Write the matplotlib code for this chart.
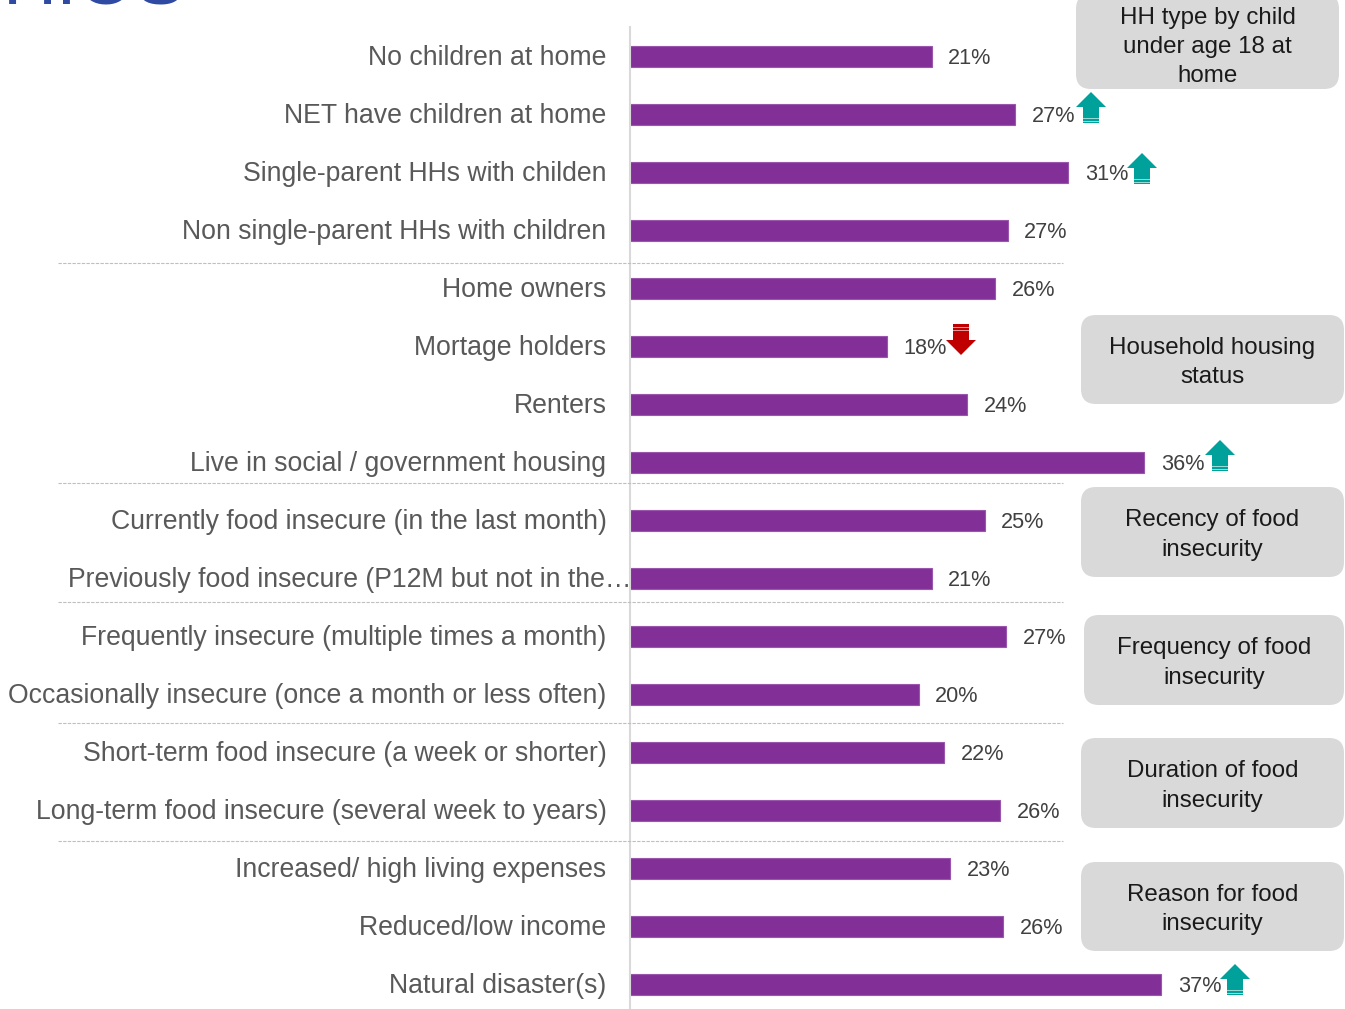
import matplotlib
matplotlib.use("Agg")
import matplotlib.pyplot as plt
from matplotlib.patches import FancyBboxPatch, Polygon, Rectangle
from matplotlib.transforms import ScaledTranslation

plt.rcParams["font.family"] = ["Liberation Sans", "DejaVu Sans"]

# Values
categories = [
    "No children at home",
    "NET have children at home",
    "Single-parent HHs with childen",
    "Non single-parent HHs with children",
    "Home owners",
    "Mortage holders",
    "Renters",
    "Live in social / government housing",
    "Currently food insecure (in the last month)",
    "Previously food insecure (P12M but not in the\u2026",
    "Frequently insecure (multiple times a month)",
    "Occasionally insecure (once a month or less often)",
    "Short-term food insecure (a week or shorter)",
    "Long-term food insecure (several week to years)",
    "Increased/ high living expenses",
    "Reduced/low income",
    "Natural disaster(s)",
]
values = [21.0, 26.8, 30.5, 26.3, 25.4, 17.9, 23.5, 35.8, 24.7, 21.0, 26.2, 20.1, 21.9, 25.8, 22.3, 26.0, 37.0]
value_labels = ["21%", "27%", "31%", "27%", "26%", "18%", "24%", "36%", "25%", "21%", "27%", "20%", "22%", "26%", "23%", "26%", "37%"]

group_names = [
    "HH type by child\nunder age 18 at\nhome",
    "Household housing\nstatus",
    "Recency of food\ninsecurity",
    "Frequency of food\ninsecurity",
    "Duration of food\ninsecurity",
    "Reason for food\ninsecurity",
]

W, H = 1345, 1009
PX_PER_UNIT = 14.36
ROW = 58
Y0 = 56.5

fig = plt.figure(figsize=(W / 100, H / 100), dpi=100)

# Overlay in pixel coordinates for the slide furniture
over = fig.add_axes([0, 0, 1, 1], zorder=3)
over.set_xlim(0, W)
over.set_ylim(H, 0)
over.axis("off")
over.patch.set_alpha(0)

# Bars
ax = fig.add_axes([630 / W, 0, (W - 630) / W, 1], zorder=2)
ax.patch.set_alpha(0)
ax.set_xlim(0, (W - 630) / PX_PER_UNIT)
ax.set_ylim((H - Y0) / ROW, -Y0 / ROW)
positions = list(range(len(categories)))
bars = ax.barh(positions, values, height=0.36, color="#823098", edgecolor="#9A55AD", linewidth=0.8)
for t in ax.bar_label(bars, labels=value_labels, padding=11, fontsize=15.6, color="#404040"):
    t.xyann = (12, -1.6)
ax.set_yticks(positions)
ax.set_yticklabels(categories, fontsize=19.2, color="#595959")
ax.tick_params(axis="y", length=0, pad=17)
ax.set_xticks([])
for s in ax.spines.values():
    s.set_visible(False)

# tick labels sit a little above the bar centres
up = ScaledTranslation(0, 1.1 / 72, fig.dpi_scale_trans)
for t in ax.get_yticklabels():
    t.set_transform(t.get_transform() + up)

# the truncated label runs right up to the axis
ax.get_yticklabels()[9].set_x(25 / (W - 630))

# Axis line and group separators
over.plot([630, 630], [27, H], color="#D9D9D9", lw=1.5, zorder=1)
for y in [263, 483, 602, 723, 841]:
    over.plot([58, 1063], [y, y], color="#BFBFBF", lw=0.8, ls=(0, (3, 1.2)), zorder=1)

# Group boxes
boxes = [(1076, -6, 1339, 89), (1081, 315, 1344, 404), (1081, 487, 1344, 577),
         (1084, 615, 1344, 705), (1081, 738, 1344, 828), (1081, 862, 1344, 951)]
for (x0, y0, x1, y1), name in zip(boxes, group_names):
    over.add_patch(FancyBboxPatch((x0 + 15, y0 + 15), x1 - x0 - 30, y1 - y0 - 30,
                                  boxstyle="round,pad=15,rounding_size=15",
                                  facecolor="#D9D9D9", edgecolor="none"))
    cy = (y0 + y1) / 2 + 3 if y0 > 0 else 47
    over.text((x0 + x1) / 2, cy, name, ha="center", va="center", fontsize=17.4,
              color="#1A1A1A", linespacing=1.42)


# Significance arrows
def arrow(x, tip, d, color):
    # d = 1 points up, d = -1 points down
    head = tip + d * 15
    end = tip + d * 31
    over.add_patch(Polygon([(x, tip), (x - 15, head), (x - 8, head), (x - 8, end),
                            (x + 8, end), (x + 8, head), (x + 15, head)],
                           closed=True, facecolor=color, edgecolor="none", zorder=4))
    for off in (25.5, 28.5):
        over.add_patch(Rectangle((x - 8, tip + d * off), 16, 1.0, facecolor="white",
                                 alpha=0.6, edgecolor="none", zorder=5))


for x, tip in [(1091, 92), (1142, 153), (1220, 440), (1235, 964)]:
    arrow(x, tip, 1, "#00A19A")
arrow(961, 355, -1, "#C00000")

# Bottom of the slide title, cut off by the picture edge
over.text(3, 4, "HIOS", fontsize=54, color="#2E4AA3", ha="left", va="baseline", clip_on=True)

fig.savefig("out.png", dpi=100)
